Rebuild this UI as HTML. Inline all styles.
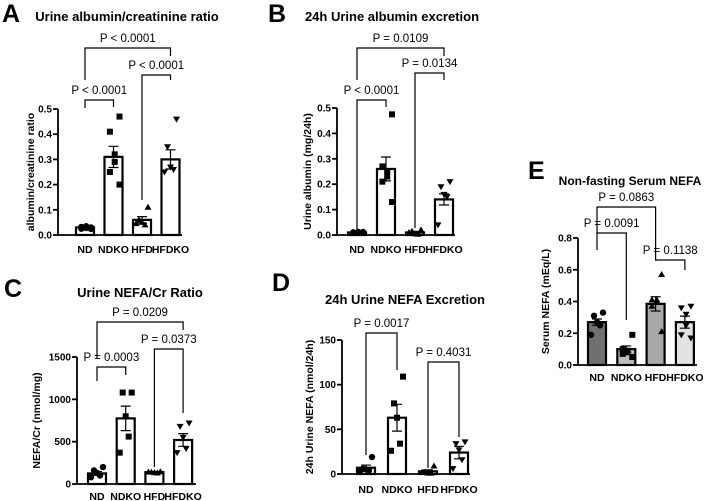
<!DOCTYPE html>
<html><head><meta charset="utf-8"><style>
html,body{margin:0;padding:0;background:#fff;}
svg{display:block;font-family:"Liberation Sans",Arial,sans-serif;}
</style></head><body>
<svg id="fig" width="707" height="501" viewBox="0 0 707 501" xmlns="http://www.w3.org/2000/svg"></svg>
<script>
const groups = ["ND","NDKO","HFD","HFDKO"];
// Panel A
const aMeans = [0.03,0.31,0.06,0.30];
const aSem = [0.004,0.042,0.013,0.038];
const aPts = [[0.03,0.025,0.035,0.028,0.032,0.024],[0.47,0.41,0.32,0.29,0.25,0.20],[0.11,0.06,0.05,0.04,0.045],[0.46,0.35,0.27,0.26,0.25]];
const aTicks = [0,0.1,0.2,0.3,0.4,0.5];
const aTickLabels = ["0.0","0.1","0.2","0.3","0.4","0.5"];
// Panel B
const bMeans = [0.01,0.26,0.01,0.14];
const bSem = [0.002,0.047,0.004,0.022];
const bPts = [[0.012,0.01,0.008,0.012,0.01,0.009],[0.475,0.27,0.25,0.23,0.21,0.13],[0.02,0.015,0.005,0.003,0.01],[0.21,0.19,0.16,0.15,0.04]];
const bTicks = [0,0.1,0.2,0.3,0.4,0.5];
const bTickLabels = ["0.0","0.1","0.2","0.3","0.4","0.5"];
// Panel C
const cMeans = [125,775,140,520];
const cSem = [22,145,4,75];
const cPts = [[200,160,130,100,80],[1080,1080,800,560,370],[145,140,135,130,142],[720,680,550,420,370]];
const cTicks = [0,500,1000,1500];
const cTickLabels = ["0","500","1000","1500"];
// Panel D
const dMeans = [7,63,3,24];
const dSem = [3,15,1.6,7];
const dPts = [[19,6,5,4,3],[109,79,63,34,26],[9,2,1,1,2],[36,34,27,16,6]];
const dTicks = [0,50,100,150];
const dTickLabels = ["0","50","100","150"];
// Panel E
const eMeans = [0.27,0.10,0.385,0.27];
const eSem = [0.02,0.02,0.045,0.038];
const ePts = [[0.33,0.31,0.27,0.25,0.19],[0.19,0.10,0.09,0.08,0.07,0.05],[0.57,0.41,0.41,0.40,0.37,0.21],[0.37,0.36,0.32,0.25,0.19,0.17]];
const eTicks = [0,0.2,0.4,0.6,0.8];
const eTickLabels = ["0.0","0.2","0.4","0.6","0.8"];

const NS="http://www.w3.org/2000/svg";
const svg=document.getElementById('fig');
function el(tag,attrs,parent){const e=document.createElementNS(NS,tag);for(const k in attrs)e.setAttribute(k,attrs[k]);(parent||svg).appendChild(e);return e;}

function panel(p){
  const g=el('g',{});
  
  
  const y=v=>p.y0-(v/p.max)*(p.y0-p.yTop);
  const x=i=>p.ax+p.first+i*p.sp;
  const L=el('text',{x:p.lx,y:p.ly,'font-size':25,'font-weight':'bold'},g);L.textContent=p.id;
  
  
  const T=el('text',{x:p.tx,y:p.ty,'font-size':p.tfs||13,'font-weight':'bold','text-anchor':'middle'},g);T.textContent=p.title;
  
  
  for(let i=0;i<4;i++){
    const top=y(p.means[i]);
    const b=el('rect',{x:x(i)-9,y:top,width:18,height:p.y0-top,fill:p.fills?p.fills[i]:'#fff',stroke:'#000','stroke-width':2.2},g);
    
    
    const e1=el('path',{d:`M${x(i)} ${y(p.means[i]-p.sem[i])}V${y(p.means[i]+p.sem[i])}M${x(i)-5} ${y(p.means[i]+p.sem[i])}H${x(i)+5}M${x(i)-5} ${y(p.means[i]-p.sem[i])}H${x(i)+5}`,stroke:'#000','stroke-width':1.2,fill:'none'},g);
    
    
    const pts=p.pts[i],n=pts.length;
    pts.forEach((v,j)=>{
      const px=x(i)+(n>1?(-6+12*j/(n-1)):0)*(j%2?1:-1),py=y(v);
      let m;
      if(i===0)m=el('circle',{cx:px,cy:py,r:3.2,fill:'#000'},g);
      else if(i===1)m=el('rect',{x:px-3,y:py-3,width:6,height:6,fill:'#000'},g);
      else if(i===2)m=el('path',{d:`M${px} ${py-3.5}L${px+3.5} ${py+2.5}L${px-3.5} ${py+2.5}Z`,fill:'#000'},g);
      else m=el('path',{d:`M${px} ${py+3.5}L${px+3.5} ${py-2.5}L${px-3.5} ${py-2.5}Z`,fill:'#000'},g);
      
      
    });
  }
  const ax=el('path',{d:`M${p.ax} ${p.yTop}V${p.y0}H${p.xEnd}`,stroke:'#000','stroke-width':1.8,fill:'none'},g);
  
  
  p.ticks.forEach((t,k)=>{
    const tk=el('path',{d:`M${p.ax-5} ${y(t)}H${p.ax}`,stroke:'#000','stroke-width':1.8},g);
    
    
    const tl=el('text',{x:p.ax-6,y:y(t)+3.5,'font-size':10,'font-weight':'bold','text-anchor':'end'},g);tl.textContent=p.tl[k];
    
    
  });
  groups.forEach((gname,i)=>{
    const xl=el('text',{x:x(i),y:p.xly,'font-size':10.5,'font-weight':'bold','text-anchor':'middle'},g);xl.textContent=gname;
    
    
  });
  const yt=el('text',{x:0,y:0,'font-size':10.5,'font-weight':'bold','text-anchor':'middle',transform:`translate(${p.ytx},${(p.y0+p.yTop)/2}) rotate(-90)`},g);yt.textContent=p.ytitle;
  
  
  p.br.forEach(b=>{
    const x1=x(b[0]),x2=x(b[1]);
    const bp=el('path',{d:`M${x1} ${b[3]}V${b[2]}H${x2}V${b[4]}`,stroke:'#000','stroke-width':1.2,fill:'none'},g);
    
    
    const bt=el('text',{x:(x1+x2)/2,y:b[2]-6,'font-size':11.5,'text-anchor':'middle'},g);bt.textContent=b[5];
    
    
  });
}
panel({id:'A',title:'Urine albumin/creatinine ratio',lx:2,ly:22,tx:127,ty:21,ax:58,first:27,sp:28.5,xEnd:182,y0:235,yTop:109,max:0.5,means:aMeans,sem:aSem,pts:aPts,ticks:aTicks,tl:aTickLabels,xly:253,ytx:34,ytitle:'albumin/creatinine ratio',
 br:[[0,3,48,80,56,'P < 0.0001'],[2,3,75,200,80,'P < 0.0001'],[0,1,100,108,107,'P < 0.0001']]});
panel({id:'B',title:'24h Urine albumin excretion',lx:268,ly:22,tx:392,ty:21,ax:337,first:20,sp:29,xEnd:455,y0:235,yTop:108,max:0.5,means:bMeans,sem:bSem,pts:bPts,ticks:bTicks,tl:bTickLabels,xly:253,ytx:311,ytitle:'Urine albumin (mg/24h)',
 br:[[0,3,48,80,56,'P = 0.0109'],[2,3,73,228,80,'P = 0.0134'],[0,1,100,232,107,'P < 0.0001']]});
panel({id:'C',title:'Urine NEFA/Cr Ratio',lx:4,ly:297,tx:140,ty:297,ax:77,first:20,sp:28.7,xEnd:196,y0:484,yTop:357,max:1500,means:cMeans,sem:cSem,pts:cPts,ticks:cTicks,tl:cTickLabels,xly:500,ytx:40,ytitle:'NEFA/Cr (nmol/mg)',
 br:[[0,3,322,358,330,'P = 0.0209'],[2,3,349,467,413,'P = 0.0373'],[0,1,367,381,375,'P = 0.0003']]});
panel({id:'D',title:'24h Urine NEFA Excretion',lx:272,ly:291,tx:405,ty:304,ax:342,first:24,sp:31,xEnd:470,y0:474,yTop:340,max:150,means:dMeans,sem:dSem,pts:dPts,ticks:dTicks,tl:dTickLabels,xly:493,ytx:313,ytitle:'24h Urine NEFA (nmol/24h)',
 br:[[0,1,333,455,370,'P = 0.0017'],[2,3,362,468,437,'P = 0.4031']]});
panel({id:'E',title:'Non-fasting Serum NEFA',tfs:12,lx:528,ly:179,tx:630,ty:185,ax:578,first:19,sp:29.3,xEnd:697,y0:365,yTop:238,max:0.8,means:eMeans,sem:eSem,pts:ePts,ticks:eTicks,tl:eTickLabels,xly:381,ytx:549,ytitle:'Serum NEFA (mEq/L)',fills:['#707070','#bdbdbd','#a9a9a9','#e2e2e2'],
 br:[[0,2,207,233,255,'P = 0.0863'],[0,1,233,250,320,'P = 0.0091'],[2,3,260,255,270,'P = 0.1138']]});
</script>
</body></html>
